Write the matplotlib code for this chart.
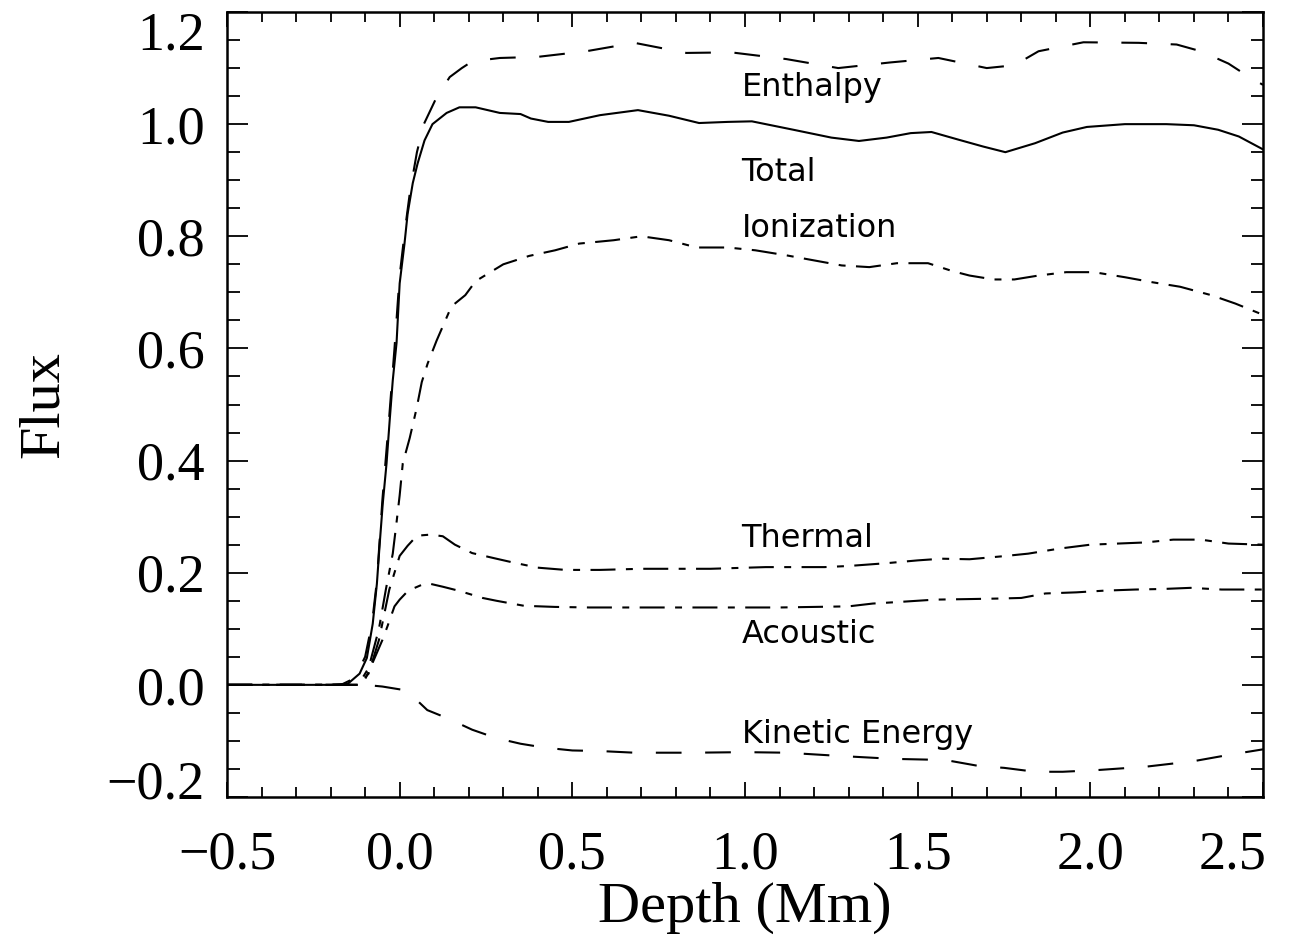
import matplotlib
matplotlib.use("Agg")
import matplotlib.pyplot as plt
import matplotlib.transforms as mtransforms

# ---- data ----
total_x = [-0.5, -0.2, -0.15, -0.116, -0.095, -0.078, -0.066, -0.058, -0.049, -0.038, -0.029, -0.02,
           -0.009, 0.0, 0.014, 0.023, 0.038, 0.052, 0.072, 0.095, 0.136, 0.173, 0.22, 0.29, 0.35, 0.38,
           0.43, 0.49, 0.58, 0.69, 0.78, 0.867, 0.95, 1.02, 1.14, 1.25, 1.33, 1.41, 1.48, 1.54, 1.62,
           1.69, 1.754, 1.84, 1.92, 1.99, 2.1, 2.22, 2.3, 2.37, 2.43, 2.5]
total_y = [0.0, 0.0, 0.002, 0.02, 0.048, 0.109, 0.18, 0.25, 0.323, 0.395, 0.471, 0.543,
           0.61, 0.716, 0.787, 0.84, 0.895, 0.93, 0.971, 1.0, 1.02, 1.03, 1.03, 1.02, 1.018, 1.01,
           1.004, 1.004, 1.016, 1.025, 1.015, 1.002, 1.004, 1.005, 0.99, 0.976, 0.97, 0.976, 0.984, 0.986, 0.972,
           0.96, 0.95, 0.966, 0.985, 0.995, 1.0, 1.0, 0.998, 0.99, 0.978, 0.955]

enthalpy_x = [-0.5, -0.17, -0.13, -0.1, -0.08, -0.066, -0.05, -0.03, -0.015, 0.0, 0.015, 0.03, 0.05,
              0.07, 0.107, 0.145, 0.18, 0.21, 0.29, 0.4, 0.54, 0.68, 0.83, 0.96, 1.12, 1.27, 1.42,
              1.56, 1.7, 1.78, 1.85, 1.98, 2.14, 2.25, 2.32, 2.4, 2.45, 2.5]
enthalpy_y = [0.0, 0.0, 0.012, 0.05, 0.11, 0.185, 0.33, 0.48, 0.6, 0.73, 0.81, 0.88, 0.95,
              1.0, 1.048, 1.084, 1.10, 1.112, 1.118, 1.12, 1.13, 1.145, 1.127, 1.128, 1.116, 1.10, 1.11,
              1.118, 1.10, 1.105, 1.13, 1.146, 1.145, 1.142, 1.13, 1.108, 1.088, 1.07]

ionization_x = [-0.5, -0.12, -0.09, -0.06, -0.04, -0.02, -0.009, 0.0, 0.009, 0.029, 0.049, 0.064,
                0.081, 0.107, 0.15, 0.19, 0.22, 0.3, 0.375, 0.45, 0.52, 0.62, 0.7, 0.78, 0.86, 0.95,
                1.03, 1.12, 1.2, 1.28, 1.36, 1.44, 1.53, 1.6, 1.65, 1.72, 1.78, 1.85, 1.93, 2.01,
                2.1, 2.18, 2.26, 2.35, 2.42, 2.5]
ionization_y = [0.0, 0.0, 0.03, 0.1, 0.17, 0.234, 0.29, 0.338, 0.395, 0.44, 0.493, 0.54,
                0.573, 0.614, 0.675, 0.695, 0.72, 0.75, 0.765, 0.775, 0.787, 0.793, 0.8, 0.793, 0.78, 0.78,
                0.775, 0.766, 0.757, 0.748, 0.745, 0.752, 0.752, 0.738, 0.73, 0.723, 0.723, 0.73, 0.736, 0.736,
                0.727, 0.718, 0.71, 0.695, 0.68, 0.66]

thermal_x = [-0.5, -0.12, -0.09, -0.06, -0.03, 0.0, 0.023, 0.05, 0.09, 0.125, 0.16, 0.21, 0.28,
             0.33, 0.4, 0.48, 0.58, 0.7, 0.9, 1.06, 1.23, 1.3, 1.41, 1.5, 1.57, 1.65, 1.74, 1.82,
             1.91, 2.0, 2.08, 2.16, 2.24, 2.32, 2.4, 2.5]
thermal_y = [0.0, 0.0, 0.02, 0.08, 0.17, 0.23, 0.248, 0.266, 0.268, 0.265, 0.25, 0.235, 0.225,
             0.218, 0.209, 0.205, 0.205, 0.207, 0.207, 0.21, 0.21, 0.212, 0.217, 0.222, 0.225, 0.224, 0.229, 0.234,
             0.243, 0.25, 0.252, 0.254, 0.259, 0.259, 0.252, 0.25]

acoustic_x = [-0.5, -0.12, -0.1, -0.078, -0.05, -0.035, -0.015, 0.0, 0.02, 0.04, 0.07, 0.09, 0.125,
              0.17, 0.24, 0.28, 0.36, 0.45, 0.55, 0.8, 1.1, 1.3, 1.37, 1.45, 1.55, 1.65, 1.74, 1.8,
              1.87, 1.96, 2.04, 2.13, 2.21, 2.29, 2.38, 2.5]
acoustic_y = [0.0, 0.0, 0.01, 0.04, 0.08, 0.105, 0.14, 0.152, 0.165, 0.172, 0.18, 0.18, 0.175,
              0.168, 0.155, 0.15, 0.141, 0.139, 0.138, 0.138, 0.138, 0.14, 0.145, 0.148, 0.152, 0.153, 0.154, 0.155,
              0.163, 0.165, 0.168, 0.17, 0.171, 0.173, 0.17, 0.17]

kinetic_x = [-0.5, -0.1, -0.05, 0.02, 0.08, 0.14, 0.21, 0.28, 0.35, 0.42, 0.5, 0.58, 0.68, 0.85,
             1.0, 1.12, 1.28, 1.43, 1.58, 1.68, 1.75, 1.84, 1.92, 2.02, 2.16, 2.3, 2.4, 2.5]
kinetic_y = [0.0, 0.0, -0.003, -0.01, -0.045, -0.06, -0.08, -0.095, -0.105, -0.112, -0.117, -0.118, -0.121, -0.121,
             -0.12, -0.121, -0.127, -0.132, -0.134, -0.145, -0.148, -0.155, -0.155, -0.152, -0.146, -0.136, -0.125, -0.115]

labels = ["Enthalpy", "Total", "Ionization", "Thermal", "Acoustic", "Kinetic Energy"]
label_x = 0.99
label_y = [1.05, 0.898, 0.798, 0.246, 0.075, -0.1036]

x_ticks = [-0.5, 0.0, 0.5, 1.0, 1.5, 2.0, 2.5]
y_ticks = [-0.2, 0.0, 0.2, 0.4, 0.6, 0.8, 1.0, 1.2]

# ---- figure ----
plt.rcParams['lines.scale_dashes'] = False
W, H = 1302, 939
fig = plt.figure(figsize=(W / 100, H / 100), dpi=100)
ax = fig.add_axes([227 / W, 1 - 797 / H, (1263 - 227) / W, (797 - 12) / H])

lw = 1.5
long_dash = (0, (18.5, 17.0))
dash_dot = (0, (18.0, 7.5, 5.0, 7.5))

ax.plot(enthalpy_x, enthalpy_y, color='black', lw=lw, linestyle=long_dash)
ax.plot(total_x, total_y, color='black', lw=lw, linestyle='-')
ax.plot(ionization_x, ionization_y, color='black', lw=lw, linestyle=dash_dot)
ax.plot(thermal_x, thermal_y, color='black', lw=lw, linestyle=dash_dot)
ax.plot(acoustic_x, acoustic_y, color='black', lw=lw, linestyle=dash_dot)
ax.plot(kinetic_x, kinetic_y, color='black', lw=lw, linestyle=long_dash)

for t, yy in zip(labels, label_y):
    ax.text(label_x, yy, t, fontsize=23, family='DejaVu Sans', ha='left', va='baseline', color='black')

ax.set_xlim(-0.5, 2.5)
ax.set_ylim(-0.2, 1.2)
ax.set_xticks(x_ticks)
ax.set_yticks(y_ticks)
ax.set_xticks([v / 10 for v in range(-5, 26)], minor=True)
ax.set_yticks([v / 20 for v in range(-4, 25)], minor=True)
ax.set_xticklabels([f"{v:.1f}".replace('-', '\u2212') for v in x_ticks])
ax.set_yticklabels([f"{v:.1f}".replace('-', '\u2212') for v in y_ticks])

tickfont = 'Liberation Serif'
ax.tick_params(axis='both', which='both', direction='in', top=True, right=True, width=1.3, colors='black')
ax.tick_params(axis='x', which='major', length=11, pad=24)
ax.tick_params(axis='x', which='minor', length=7)
ax.tick_params(axis='y', which='major', length=15, pad=16)
ax.tick_params(axis='y', which='minor', length=9)
for lab in ax.get_xticklabels() + ax.get_yticklabels():
    lab.set_fontfamily(tickfont)
    lab.set_fontsize(39)

for s in ax.spines.values():
    s.set_linewidth(1.8)

ax.set_xlabel("Depth (Mm)", fontsize=42, family=tickfont)
ax.set_ylabel("Flux", fontsize=42, family=tickfont)
ax.xaxis.set_label_coords(0.5, -0.1075)
ax.yaxis.set_label_coords(-0.1515, 0.5)

# end labels sit inside the frame in the reference
def shift(lab, dx_pt, dy_pt):
    lab.set_transform(lab.get_transform() + mtransforms.ScaledTranslation(dx_pt / 72, dy_pt / 72, fig.dpi_scale_trans))

ylabs = ax.yaxis.get_majorticklabels()
shift(ylabs[-1], 0, -13)
shift(ylabs[0], 0, 13)
xlabs = ax.xaxis.get_majorticklabels()
shift(xlabs[-1], -22, 0)

fig.savefig("out.png", dpi=100, facecolor='white')
